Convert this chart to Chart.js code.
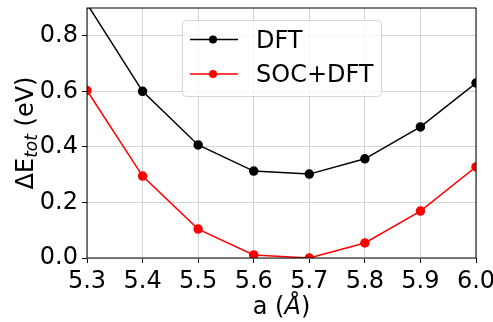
<!DOCTYPE html>
<html>
<head>
<meta charset="utf-8">
<script src="https://cdn.jsdelivr.net/npm/chart.js@4"></script>
<style>
  html, body { margin: 0; padding: 0; background: #fff; }
  #wrap { width: 493px; height: 322px; }
</style>
</head>
<body>
<div id="wrap"><canvas id="c" width="493" height="322"></canvas></div>
<script>
const latticeA = [5.3, 5.4, 5.5, 5.6, 5.7, 5.8, 5.9, 6.0];
const dftVals = [0.915, 0.60, 0.407, 0.313, 0.302, 0.357, 0.472, 0.630];
const socVals = [0.603, 0.295, 0.104, 0.011, 0.0, 0.054, 0.169, 0.328];
const yTicks = [0.0, 0.2, 0.4, 0.6, 0.8];
const xTicks = [5.3, 5.4, 5.5, 5.6, 5.7, 5.8, 5.9, 6.0];
const seriesNames = ["DFT", "SOC+DFT"];

const FONT = "'DejaVu Sans', sans-serif";
const FS = 24;

function pts(vals) {
  return latticeA.map((a, i) => ({x: a, y: vals[i]}));
}

// clip the marks to the axes box, then draw frame, axis titles and legend
const decor = {
  id: "decor",
  beforeDatasetsDraw(chart) {
    const ctx = chart.ctx;
    const a = chart.chartArea;
    ctx.save();
    ctx.beginPath();
    ctx.rect(a.left, a.top, a.right - a.left, a.bottom - a.top);
    ctx.clip();
  },
  afterDatasetsDraw(chart) {
    const ctx = chart.ctx;
    ctx.restore();
    const a = chart.chartArea;
    ctx.save();
    ctx.strokeStyle = "#000";
    ctx.lineWidth = 1;
    ctx.strokeRect(a.left, a.top, a.right - a.left, a.bottom - a.top);

    // legend
    const lx = 182, ly = 20, lw = 199, lh = 76, r = 4;
    ctx.beginPath();
    ctx.roundRect(lx + 0.5, ly + 0.5, lw, lh, r);
    ctx.fillStyle = "rgba(255,255,255,0.8)";
    ctx.fill();
    ctx.strokeStyle = "#d6d6d6";
    ctx.stroke();
    const cols = ["#000", "#f00"];
    const rows = [39.5, 74];
    ctx.font = FS + "px " + FONT;
    ctx.textBaseline = "alphabetic";
    seriesNames.forEach((name, i) => {
      ctx.strokeStyle = cols[i];
      ctx.lineWidth = 1.5;
      ctx.beginPath();
      ctx.moveTo(190, rows[i]);
      ctx.lineTo(238, rows[i]);
      ctx.stroke();
      ctx.fillStyle = cols[i];
      ctx.beginPath();
      ctx.arc(213, rows[i], 4, 0, Math.PI * 2);
      ctx.fill();
      ctx.fillStyle = "#000";
      ctx.fillText(name, 256, rows[i] + 8);
    });

    // x title: a (Å)
    ctx.fillStyle = "#000";
    const xc = (a.left + a.right) / 2;
    const p1 = "a (", p2 = "Å", p3 = ")";
    ctx.font = FS + "px " + FONT;
    const w1 = ctx.measureText(p1).width, w3 = ctx.measureText(p3).width;
    ctx.font = "italic " + FS + "px " + FONT;
    const w2 = ctx.measureText(p2).width;
    let x0 = xc - (w1 + w2 + w3) / 2;
    const by = 314;
    ctx.font = FS + "px " + FONT;
    ctx.fillText(p1, x0, by);
    ctx.font = "italic " + FS + "px " + FONT;
    ctx.fillText(p2, x0 + w1, by);
    ctx.font = FS + "px " + FONT;
    ctx.fillText(p3, x0 + w1 + w2, by);

    // y title: ΔE_tot (eV)
    ctx.save();
    ctx.translate(33, 133);
    ctx.rotate(-Math.PI / 2);
    const s1 = "ΔE", s2 = "tot", s3 = " (eV)";
    const sub = Math.round(FS * 0.7);
    ctx.font = FS + "px " + FONT;
    const v1 = ctx.measureText(s1).width, v3 = ctx.measureText(s3).width;
    ctx.font = "italic " + sub + "px " + FONT;
    const v2 = ctx.measureText(s2).width;
    let y0 = -(v1 + v2 + v3) / 2;
    ctx.font = FS + "px " + FONT;
    ctx.fillText(s1, y0, 0);
    ctx.font = "italic " + sub + "px " + FONT;
    ctx.fillText(s2, y0 + v1, 4);
    ctx.font = FS + "px " + FONT;
    ctx.fillText(s3, y0 + v1 + v2, 0);
    ctx.restore();

    ctx.restore();
  }
};

new Chart(document.getElementById("c"), {
  type: "line",
  data: {
    datasets: [
      {
        label: seriesNames[0],
        data: pts(dftVals),
        borderColor: "#000",
        backgroundColor: "#000",
        borderWidth: 1.5,
        pointRadius: 4,
        pointHoverRadius: 4,
        tension: 0
      },
      {
        label: seriesNames[1],
        data: pts(socVals),
        borderColor: "#f00",
        backgroundColor: "#f00",
        borderWidth: 1.5,
        pointRadius: 4,
        pointHoverRadius: 4,
        tension: 0
      }
    ]
  },
  options: {
    responsive: false,
    animation: false,
    events: [],
    layout: { padding: { left: 0, right: 17, top: 8, bottom: 0 } },
    plugins: { legend: { display: false }, tooltip: { enabled: false } },
    scales: {
      x: {
        type: "linear",
        min: 5.3,
        max: 6.0,
        afterBuildTicks(s) { s.ticks = xTicks.map(v => ({value: v})); },
        afterFit(s) { s.height = 64; s.paddingLeft = 0; s.paddingRight = 0; },
        grid: { color: "#d3d3d3", lineWidth: 1, tickLength: 5, tickColor: "#000" },
        border: { display: false },
        ticks: {
          color: "#000",
          font: { family: FONT, size: FS },
          padding: 4,
          maxRotation: 0,
          autoSkip: false,
          callback: v => v.toFixed(1)
        }
      },
      y: {
        min: 0,
        max: 0.9,
        afterBuildTicks(s) { s.ticks = yTicks.map(v => ({value: v})); },
        afterFit(s) { s.width = 87; s.paddingTop = 0; s.paddingBottom = 0; },
        grid: { color: "#d3d3d3", lineWidth: 1, tickLength: 5, tickColor: "#000" },
        border: { display: false },
        ticks: {
          color: "#000",
          font: { family: FONT, size: FS },
          padding: 4,
          callback: v => v.toFixed(1)
        }
      }
    }
  },
  plugins: [decor]
});
</script>
</body>
</html>
